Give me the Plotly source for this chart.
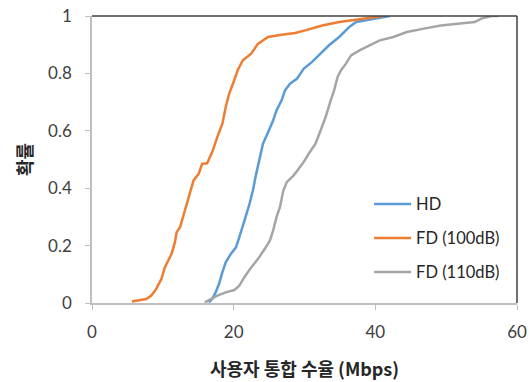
import plotly.graph_objects as go

# Data
hd_x = [16.49, 16.97, 17.45, 17.93, 18.4, 18.88, 19.6, 20.32, 20.79, 21.27, 21.75, 22.23, 22.71,
        23.18, 23.66, 24.14, 24.86, 25.57, 26.05, 26.77, 27.25, 27.96, 28.92, 29.88, 31.07,
        32.27, 33.46, 34.9, 36.33, 37.28, 38.72, 40.15, 42.06]
hd_y = [0.002, 0.014, 0.037, 0.066, 0.107, 0.142, 0.171, 0.194, 0.229, 0.264, 0.305, 0.345, 0.392,
        0.45, 0.508, 0.555, 0.595, 0.636, 0.671, 0.706, 0.741, 0.764, 0.781, 0.816, 0.84,
        0.869, 0.898, 0.927, 0.962, 0.979, 0.985, 0.991, 1.0]

fd100_x = [5.64, 7.65, 8.37, 9.08, 9.8, 10.28, 10.76, 11.23, 11.71, 11.95, 12.43, 12.91, 13.38,
           13.86, 14.34, 15.06, 15.54, 16.25, 16.97, 17.69, 18.4, 18.88, 19.36, 20.08, 20.55,
           21.27, 22.47, 23.42, 24.86, 26.77, 28.68, 30.11, 32.5, 34.9, 37.28, 39.67, 41.1]
fd100_y = [0.005, 0.014, 0.026, 0.049, 0.084, 0.124, 0.148, 0.171, 0.212, 0.247, 0.264, 0.305, 0.351,
           0.392, 0.427, 0.45, 0.485, 0.487, 0.526, 0.578, 0.624, 0.683, 0.729, 0.776, 0.81,
           0.845, 0.869, 0.903, 0.927, 0.935, 0.941, 0.95, 0.967, 0.979, 0.987, 0.994, 1.0]

fd110_x = [15.92, 16.73, 17.69, 18.88, 20.08, 20.79, 21.51, 22.47, 23.42, 24.38, 25.1, 25.57, 26.05,
           26.53, 27.01, 27.49, 28.44, 29.16, 29.88, 30.59, 31.55, 32.27, 32.98, 33.7, 34.18,
           34.66, 35.13, 35.85, 36.57, 37.76, 39.2, 40.63, 42.54, 44.46, 46.85, 49.24, 51.63,
           54.02, 54.97, 56.41, 57.36]
fd110_y = [0.002, 0.014, 0.026, 0.037, 0.045, 0.06, 0.09, 0.124, 0.153, 0.188, 0.217, 0.252, 0.299,
           0.334, 0.392, 0.421, 0.444, 0.467, 0.491, 0.52, 0.555, 0.601, 0.648, 0.706, 0.741,
           0.787, 0.81, 0.834, 0.863, 0.88, 0.898, 0.915, 0.927, 0.944, 0.956, 0.967, 0.973,
           0.979, 0.991, 1.0, 1.0]

series_names = ["HD", "FD (100dB)", "FD (110dB)"]
series_colors = ["#5B9BD5", "#ED7D31", "#A5A5A5"]

x_ticks = [0, 20, 40, 60]
y_ticks = [0, 0.2, 0.4, 0.6, 0.8, 1]
y_tick_labels = ["0", "0.2", "0.4", "0.6", "0.8", "1"]
y_title = "확률"

fig = go.Figure()
for i, (name, xs, ys, col) in enumerate(zip(series_names, [hd_x, fd100_x, fd110_x],
                                            [hd_y, fd100_y, fd110_y], series_colors)):
    fig.add_trace(go.Scatter(x=xs, y=ys, mode="lines", name=name, legendgroup=f"g{i}",
                             line=dict(color=col, width=2.5)))

tick_font = dict(family="Lato, Open Sans, sans-serif", size=17, color="#404040")
title_font = dict(family="Noto Sans CJK KR", size=18, color="#262626", weight="bold")

fig.update_layout(
    width=532, height=382,
    margin=dict(l=92, r=15, t=16, b=79),
    paper_bgcolor="white", plot_bgcolor="white",
    showlegend=True,
    legend=dict(x=0.652, y=0.405, xanchor="left", yanchor="top",
                font=dict(family="Lato, Open Sans, sans-serif", size=16.5, color="#262626"),
                bgcolor="rgba(0,0,0,0)", itemwidth=37, tracegroupgap=9.5),
    xaxis=dict(range=[0, 60], tickvals=x_ticks, showgrid=False, zeroline=False,
               showline=True, linecolor="#BFBFBF", linewidth=1.5, automargin=False,
               ticks="outside", ticklen=5, tickcolor="#BFBFBF",
               tickfont=tick_font, ticklabelstandoff=8,
               title=dict(text="사용자 통합 수율 (Mbps)", font=title_font, standoff=22)),
    yaxis=dict(range=[0, 1], tickvals=y_ticks, ticktext=y_tick_labels, showgrid=False, zeroline=False,
               showline=True, linecolor="#BFBFBF", linewidth=1.5, automargin=False,
               ticks="outside", ticklen=5, tickcolor="#BFBFBF",
               tickfont=tick_font, ticklabelstandoff=10),
)
fig.add_annotation(text=y_title, xref="paper", yref="paper", x=-0.161, y=0.5,
                   xanchor="center", yanchor="middle", textangle=-90, showarrow=False,
                   font=title_font)
# plot-area border (top and right) in dark gray
fig.add_shape(type="line", xref="paper", yref="paper", x0=0, x1=1, y0=1, y1=1,
              line=dict(color="#404040", width=1.5))
fig.add_shape(type="line", xref="paper", yref="paper", x0=1, x1=1, y0=0, y1=1,
              line=dict(color="#404040", width=1.5))

fig.write_html("out.html")
